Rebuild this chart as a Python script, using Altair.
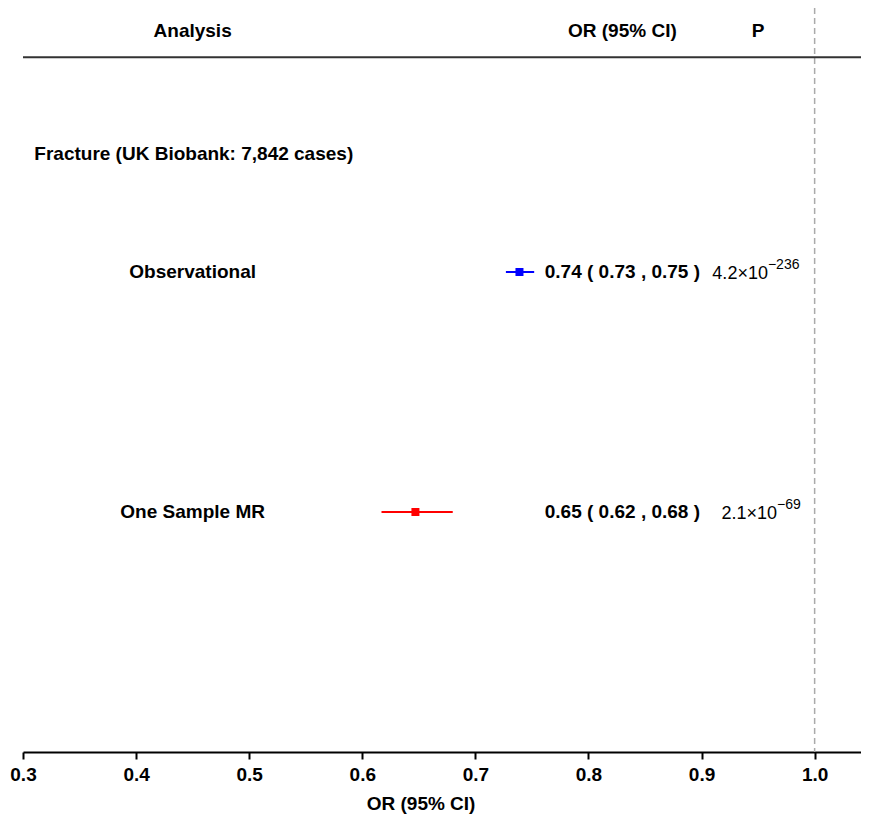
import altair as alt
import pandas as pd

# ---- data ----
analysis = ["Observational", "One Sample MR"]
or_est = [0.739, 0.647]
or_lo = [0.727, 0.617]
or_hi = [0.752, 0.680]
or_text = ["0.74 ( 0.73 , 0.75 )", "0.65 ( 0.62 , 0.68 )"]
p_base = ["4.2×10", "2.1×10"]
p_exp = ["−236", "−69"]
colors = ["#0000FF", "#FF0000"]
group_label = "Fracture (UK Biobank: 7,842 cases)"
headers = ["Analysis", "OR (95% CI)", "P"]
x_ticks = [0.3, 0.4, 0.5, 0.6, 0.7, 0.8, 0.9, 1.0]

# ---- layout (row positions / column anchors in data units) ----
row_y = [2.2, 4.2]
header_y = 0.19
header_line_y = 0.41
group_y = 1.22
col_analysis = 0.45
col_or = 0.83
col_p = 0.95
p_split = [0.9587, 0.9667]
title_y = 6.63
x_min, x_max = 0.3, 1.041
y_max = 6.2

FONT = "Liberation Sans"
W, H = 838, 744

xs = alt.Scale(domain=[x_min, x_max], nice=False, zero=False)
ys = alt.Scale(domain=[0, y_max], reverse=True, nice=False, zero=False)

rows = pd.DataFrame({
    "analysis": analysis, "est": or_est, "lo": or_lo, "hi": or_hi,
    "ortext": or_text, "pbase": p_base, "pexp": p_exp, "color": colors,
    "y": row_y, "psplit": p_split,
})
rows["xa"] = col_analysis
rows["xo"] = col_or

hdr = pd.DataFrame({"t": headers, "x": [col_analysis, col_or, col_p], "y": [header_y] * 3})

base = alt.Chart(rows)

x_axis = alt.X("x:Q", scale=xs, axis=alt.Axis(
    values=x_ticks, format=".1f", title=None, grid=False, labelFlush=False,
    labelFont=FONT, labelFontSize=19, labelFontWeight="bold", labelColor="black",
    tickSize=7, tickWidth=2, tickColor="black",
    domainColor="black", domainWidth=2, labelPadding=6,
))

# dashed reference line at 1.0
ref = alt.Chart(pd.DataFrame({"x": [1.0], "y": [0.0], "y2": [y_max]})).mark_rule(
    color="#AAAAAA", strokeDash=[6, 4], strokeWidth=1.5
).encode(x=x_axis, y=alt.Y("y:Q", scale=ys, axis=None), y2="y2:Q")

# header line
hline = alt.Chart(pd.DataFrame({"x": [x_min], "x2": [x_max], "y": [header_line_y]})).mark_rule(
    color="#333333", strokeWidth=2
).encode(x=alt.X("x:Q", scale=xs), x2="x2:Q", y=alt.Y("y:Q", scale=ys))

header_text = alt.Chart(hdr).mark_text(
    font=FONT, fontSize=19, fontWeight="bold", baseline="middle", align="center", color="black"
).encode(x=alt.X("x:Q", scale=xs), y=alt.Y("y:Q", scale=ys), text="t:N")

group_text = alt.Chart(pd.DataFrame({"t": [group_label], "x": [0.31], "y": [group_y]})).mark_text(
    font=FONT, fontSize=19, fontWeight="bold", baseline="middle", align="left", color="black"
).encode(x=alt.X("x:Q", scale=xs), y=alt.Y("y:Q", scale=ys), text="t:N")

label_text = base.mark_text(
    font=FONT, fontSize=19, fontWeight="bold", baseline="middle", align="center", color="black"
).encode(x=alt.X("xa:Q", scale=xs), y=alt.Y("y:Q", scale=ys), text="analysis:N")

or_txt = base.mark_text(
    font=FONT, fontSize=19, fontWeight="bold", baseline="middle", align="center", color="black"
).encode(x=alt.X("xo:Q", scale=xs), y=alt.Y("y:Q", scale=ys), text="ortext:N")

p_b = base.mark_text(
    font=FONT, fontSize=18, baseline="middle", align="right", color="black", dy=2
).encode(x=alt.X("psplit:Q", scale=xs), y=alt.Y("y:Q", scale=ys), text="pbase:N")

p_e = base.mark_text(
    font=FONT, fontSize=14, baseline="middle", align="left", color="black", dy=-7
).encode(x=alt.X("psplit:Q", scale=xs), y=alt.Y("y:Q", scale=ys), text="pexp:N")

ci = base.mark_rule(strokeWidth=2).encode(
    x=alt.X("lo:Q", scale=xs), x2="hi:Q", y=alt.Y("y:Q", scale=ys),
    color=alt.Color("color:N", scale=None),
)

pt = base.mark_square(size=64, opacity=1).encode(
    x=alt.X("est:Q", scale=xs), y=alt.Y("y:Q", scale=ys),
    color=alt.Color("color:N", scale=None),
)

title = alt.Chart(pd.DataFrame({"t": ["OR (95% CI)"], "x": [0.652], "y": [title_y]})).mark_text(
    font=FONT, fontSize=19, fontWeight="bold", baseline="middle", align="center", color="black"
).encode(x=alt.X("x:Q", scale=xs), y=alt.Y("y:Q", scale=ys), text="t:N")

chart = alt.layer(
    ref, hline, header_text, group_text, label_text, or_txt, p_b, p_e, ci, pt, title
).properties(
    width=W, height=H,
    background="white",
    autosize=alt.AutoSizeParams(type="none"),
    padding={"left": 15, "top": 0, "right": 0, "bottom": 68},
).configure_view(stroke=None)

chart.save("out.html", embed_options={"renderer": "svg", "actions": False})
